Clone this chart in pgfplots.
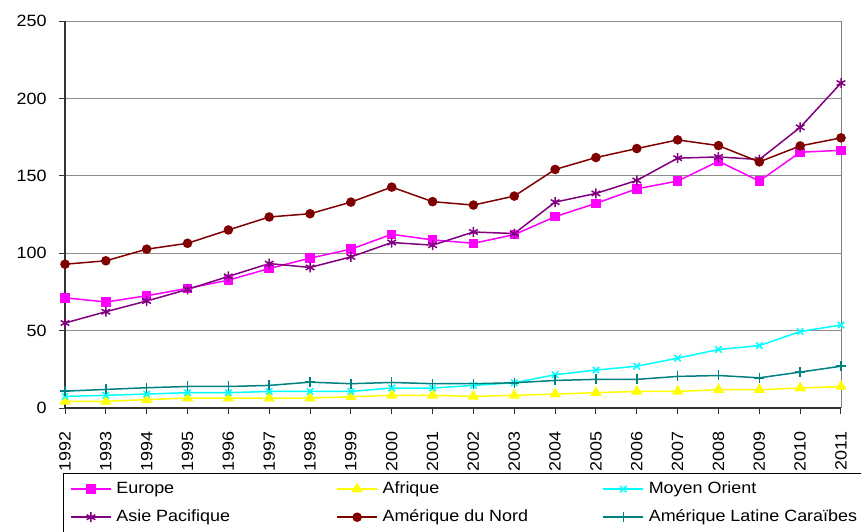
\documentclass[border=0pt]{standalone}
\usepackage{pgfplots}
\usepackage{pgfplotstable}
\pgfplotsset{compat=1.18}
\usepackage{fontspec}
\setmainfont[FakeStretch=1.1]{Liberation Sans}
\definecolor{cEur}{HTML}{FF00FF}
\definecolor{cAfr}{HTML}{FFFF00}
\definecolor{cMO}{HTML}{00FFFF}
\definecolor{cAP}{HTML}{800080}
\definecolor{cAN}{HTML}{800000}
\definecolor{cAL}{HTML}{008080}
\pgfplotstableread{
year eu af mo ap an al
1992 71.2 4.3 7.5 54.9 92.9 10.9
1993 68.5 4.3 8.2 62.2 95.1 12.0
1994 72.5 5.4 9.0 69.1 102.6 13.1
1995 77.3 6.4 9.9 76.6 106.4 13.9
1996 82.6 6.4 9.9 85.0 115.0 13.9
1997 90.1 6.4 10.7 93.3 123.4 14.6
1998 96.8 6.4 10.7 90.8 125.5 16.7
1999 102.6 7.3 10.7 97.6 133.0 15.7
2000 112.2 8.2 12.9 106.9 142.7 16.5
2001 108.6 8.2 12.9 105.2 133.3 15.7
2002 106.4 7.5 14.6 113.7 131.1 15.7
2003 112.0 8.2 16.3 112.7 136.9 16.3
2004 123.6 9.0 21.5 133.0 154.1 17.8
2005 132.2 9.9 24.5 138.6 161.8 18.5
2006 141.6 10.7 27.0 147.0 167.6 18.5
2007 146.6 10.7 32.2 161.4 173.2 20.4
2008 159.4 11.8 37.8 162.2 169.5 21.0
2009 146.6 11.8 40.3 160.5 159.0 19.5
2010 165.2 12.9 49.4 181.3 169.3 23.2
2011 166.5 13.9 53.6 209.9 174.5 27.0
}\datatable
\begin{document}
\begin{tikzpicture}[x=1pt,y=1pt]
\useasboundingbox (0,0) rectangle (861,531);
\clip (0,0) rectangle (861,531);
\begin{axis}[
  at={(65pt,123pt)}, anchor=south west,
  scale only axis, width=776pt, height=387pt,
  xmin=1992, xmax=2011, ymin=0, ymax=250,
  xtick={1992,...,2011}, ytick={0,50,...,250},
  axis x line=bottom, axis y line=left,
  axis line style={-, black!80, line width=1.3pt},
  tick style={black!80, line width=1pt},
  tick align=outside, major tick length=6pt,
  ymajorgrids, grid style={gray!90, line width=1pt},
  font=\fontsize{16.3}{19}\selectfont,
  /pgf/number format/assume math mode=true,
  /pgf/number format/1000 sep={},
  xticklabel style={rotate=90, anchor=east},
  yticklabel style={anchor=east},
  xticklabel shift=14pt,
  yticklabel shift=9pt,
  clip=false,
  legend columns=3,
  legend style={at={(-0.00258,-0.16796)}, anchor=north west,
    draw=black, fill=white,
    inner xsep=7pt, inner ysep=8pt,
    nodes={inner sep=0pt, text height=12pt, text depth=4pt, anchor=west},
    row sep=12pt,
    /tikz/every odd column/.append style={column sep=4.7pt},
    /tikz/every even column/.append style={column sep=0pt},
    font=\fontsize{16.3}{19}\selectfont},
  legend image code/.code={\draw[line width=1.5pt, mark repeat=2,mark phase=2] plot coordinates {(0pt,0pt) (20pt,0pt) (40pt,0pt)};},
]
\addplot[cEur, line width=1.5pt, mark=square*, mark size=4pt, mark options={solid}] table[x=year,y=eu]{\datatable};
\addlegendentry{\makebox[220pt][l]{Europe}}
\addplot[cAfr, line width=1.5pt, mark=triangle*, mark size=5pt, mark options={solid}] table[x=year,y=af]{\datatable};
\addlegendentry{\makebox[220pt][l]{Afrique}}
\addplot[cMO, line width=1.5pt, mark=x, mark size=4.5pt] table[x=year,y=mo]{\datatable};
\addlegendentry{\makebox[220pt][l]{Moyen Orient}}
\addplot[cAP, line width=1.5pt, mark=asterisk, mark size=5pt] table[x=year,y=ap]{\datatable};
\addlegendentry{\makebox[220pt][l]{Asie Pacifique}}
\addplot[cAN, line width=1.5pt, mark=*, mark size=4pt] table[x=year,y=an]{\datatable};
\addlegendentry{\makebox[220pt][l]{Amérique du Nord}}
\addplot[cAL, line width=1.5pt, mark=+, mark size=5pt] table[x=year,y=al]{\datatable};
\addlegendentry{\makebox[220pt][l]{Amérique Latine Caraïbes}}
\draw[gray, line width=1pt] (rel axis cs:1,0) -- (rel axis cs:1,1);
\end{axis}
\end{tikzpicture}
\end{document}
